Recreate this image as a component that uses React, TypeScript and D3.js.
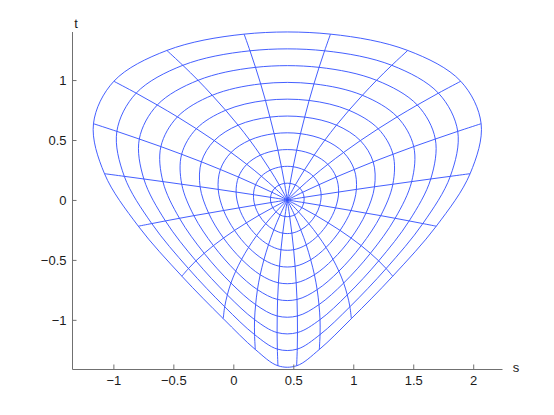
import React, { useEffect, useRef } from "react";
import * as d3 from "d3";

// mesh points: center, then 10 rings x 20 spokes, as [s, t]
const center: [number, number] = [0.45, 0];

const ring1 = [[0.590,0.022],[0.578,0.064],[0.554,0.099],[0.517,0.125],[0.473,0.138],[0.427,0.138],[0.383,0.125],[0.346,0.099],[0.322,0.064],[0.310,0.022],[0.313,-0.022],[0.329,-0.064],[0.356,-0.099],[0.390,-0.125],[0.430,-0.138],[0.470,-0.138],[0.510,-0.125],[0.544,-0.099],[0.571,-0.064],[0.587,-0.022]];
const ring2 = [[0.732,0.044],[0.714,0.127],[0.666,0.198],[0.592,0.249],[0.499,0.277],[0.401,0.277],[0.308,0.249],[0.234,0.198],[0.186,0.127],[0.168,0.044],[0.179,-0.044],[0.215,-0.127],[0.270,-0.198],[0.338,-0.249],[0.412,-0.277],[0.488,-0.277],[0.562,-0.249],[0.630,-0.198],[0.685,-0.127],[0.721,-0.044]];
const ring3 = [[0.878,0.066],[0.857,0.191],[0.788,0.297],[0.674,0.374],[0.528,0.415],[0.372,0.415],[0.226,0.374],[0.112,0.297],[0.043,0.191],[0.023,0.066],[0.048,-0.066],[0.109,-0.191],[0.194,-0.297],[0.293,-0.374],[0.397,-0.415],[0.503,-0.415],[0.608,-0.374],[0.706,-0.297],[0.791,-0.191],[0.852,-0.066]];
const ring4 = [[1.026,0.088],[1.008,0.254],[0.919,0.396],[0.763,0.499],[0.560,0.553],[0.340,0.553],[0.137,0.499],[-0.019,0.396],[-0.108,0.254],[-0.126,0.088],[-0.081,-0.088],[0.010,-0.254],[0.127,-0.396],[0.255,-0.499],[0.385,-0.553],[0.515,-0.553],[0.645,-0.499],[0.773,-0.396],[0.890,-0.254],[0.981,-0.088]];
const ring5 = [[1.177,0.110],[1.166,0.318],[1.059,0.495],[0.860,0.624],[0.595,0.691],[0.305,0.691],[0.040,0.624],[-0.159,0.495],[-0.266,0.318],[-0.277,0.110],[-0.206,-0.110],[-0.082,-0.318],[0.069,-0.495],[0.224,-0.624],[0.376,-0.691],[0.524,-0.691],[0.676,-0.624],[0.831,-0.495],[0.982,-0.318],[1.106,-0.110]];
const ring6 = [[1.330,0.131],[1.331,0.381],[1.208,0.594],[0.964,0.748],[0.632,0.830],[0.268,0.830],[-0.064,0.748],[-0.308,0.594],[-0.431,0.381],[-0.430,0.131],[-0.329,-0.131],[-0.166,-0.381],[0.020,-0.594],[0.201,-0.748],[0.369,-0.830],[0.531,-0.830],[0.699,-0.748],[0.880,-0.594],[1.066,-0.381],[1.229,-0.131]];
const ring7 = [[1.487,0.153],[1.504,0.445],[1.366,0.693],[1.076,0.873],[0.672,0.968],[0.228,0.968],[-0.176,0.873],[-0.466,0.693],[-0.604,0.445],[-0.587,0.153],[-0.449,-0.153],[-0.243,-0.445],[-0.020,-0.693],[0.186,-0.873],[0.366,-0.968],[0.534,-0.968],[0.714,-0.873],[0.920,-0.693],[1.143,-0.445],[1.349,-0.153]];
const ring8 = [[1.646,0.175],[1.684,0.508],[1.534,0.792],[1.194,0.998],[0.715,1.106],[0.185,1.106],[-0.294,0.998],[-0.634,0.792],[-0.784,0.508],[-0.746,0.175],[-0.566,-0.175],[-0.312,-0.508],[-0.050,-0.792],[0.177,-0.998],[0.365,-1.106],[0.535,-1.106],[0.723,-0.998],[0.950,-0.792],[1.212,-0.508],[1.466,-0.175]];
const ring9 = [[1.809,0.197],[1.871,0.572],[1.710,0.891],[1.321,1.123],[0.761,1.244],[0.139,1.244],[-0.421,1.123],[-0.810,0.891],[-0.971,0.572],[-0.909,0.197],[-0.680,-0.197],[-0.374,-0.572],[-0.072,-0.891],[0.177,-1.123],[0.367,-1.244],[0.533,-1.244],[0.723,-1.123],[0.972,-0.891],[1.274,-0.572],[1.580,-0.197]];
const ring10 = [[1.974,0.219],[2.066,0.636],[1.896,0.990],[1.454,1.247],[0.810,1.383],[0.090,1.383],[-0.554,1.247],[-0.996,0.990],[-1.166,0.636],[-1.074,0.219],[-0.792,-0.219],[-0.429,-0.636],[-0.084,-0.990],[0.183,-1.247],[0.372,-1.383],[0.528,-1.383],[0.717,-1.247],[0.984,-0.990],[1.329,-0.636],[1.692,-0.219]];

const xTicks = [-1, -0.5, 0, 0.5, 1, 1.5, 2];
const yTicks = [-1, -0.5, 0, 0.5, 1];

const width = 554;
const height = 415;
const lineColor = "#2f4dff";
const axisColor = "#707070";
const font = "'Liberation Sans', Arial, sans-serif";

const fmt = (v: number) => (v < 0 ? "\u2212" + Math.abs(v) : String(v));

export default function App() {
  const svgRef = useRef<SVGSVGElement>(null);

  useEffect(() => {
    const svg = d3.select(svgRef.current);
    svg.selectAll("*").remove();

    const x = d3.scaleLinear().domain([-1.345, 2.24]).range([72, 502]);
    const y = d3.scaleLinear().domain([-1.41, 1.405]).range([369, 31.5]);

    const rings = [ring1, ring2, ring3, ring4, ring5, ring6, ring7, ring8, ring9, ring10];
    // each spoke runs from the center out through ring j of every ring
    const spokes = ring1.map((_, j) => [center, ...rings.map((r) => r[j])]);

    const ringLine = d3
      .line<number[]>()
      .x((d) => x(d[0]))
      .y((d) => y(d[1]))
      .curve(d3.curveCatmullRomClosed);

    const spokeLine = d3
      .line<number[]>()
      .x((d) => x(d[0]))
      .y((d) => y(d[1]))
      .curve(d3.curveCatmullRom);

    const mesh = svg.append("g").attr("fill", "none").attr("stroke", lineColor).attr("stroke-width", 0.9);

    mesh.selectAll("path.ring").data(rings).join("path").attr("class", "ring").attr("d", (d) => ringLine(d));
    mesh.selectAll("path.spoke").data(spokes).join("path").attr("class", "spoke").attr("d", (d) => spokeLine(d));

    // axes (box off, ticks pointing in)
    const xAxis = svg
      .append("g")
      .attr("transform", `translate(0,369)`)
      .call(
        d3.axisBottom(x).tickValues(xTicks).tickFormat((d) => fmt(d as number)).tickSizeInner(-4.5).tickSizeOuter(0).tickPadding(7)
      );
    const yAxis = svg
      .append("g")
      .attr("transform", `translate(72,0)`)
      .call(
        d3.axisLeft(y).tickValues(yTicks).tickFormat((d) => fmt(d as number)).tickSizeInner(-4.5).tickSizeOuter(0).tickPadding(5.5)
      );

    [xAxis, yAxis].forEach((ax) => {
      ax.attr("font-family", font).attr("font-size", 13);
      ax.select(".domain").attr("stroke", axisColor);
      ax.selectAll(".tick line").attr("stroke", axisColor);
      ax.selectAll(".tick text").attr("fill", "#1a1a1a");
    });

    svg
      .append("text")
      .attr("x", 516)
      .attr("y", 371.5)
      .attr("text-anchor", "middle")
      .attr("font-family", font)
      .attr("font-size", 13)
      .attr("fill", "#1a1a1a")
      .text("s");

    svg
      .append("text")
      .attr("x", 76)
      .attr("y", 28.3)
      .attr("text-anchor", "middle")
      .attr("font-family", font)
      .attr("font-size", 13)
      .attr("fill", "#1a1a1a")
      .text("t");
  }, []);

  return (
    <svg
      ref={svgRef}
      width={width}
      height={height}
      style={{ position: "absolute", left: 0, top: 0, background: "#fff" }}
    />
  );
}
